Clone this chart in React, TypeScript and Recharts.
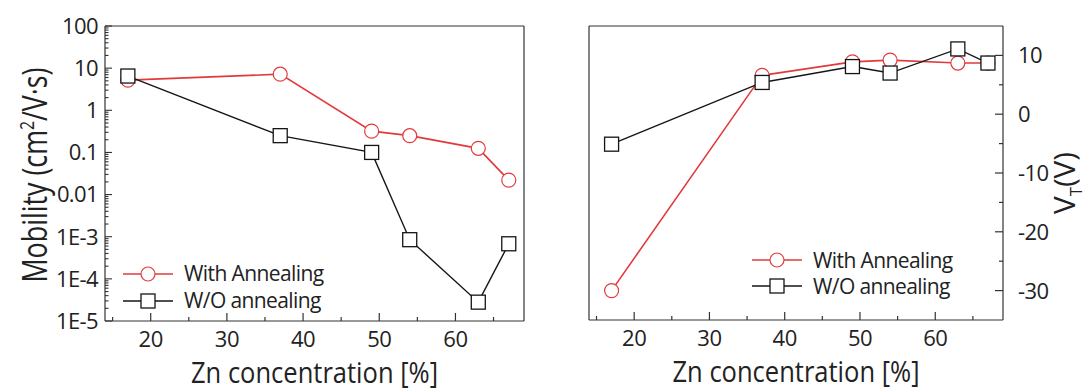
import React from 'react';
import { LineChart, Line, XAxis, YAxis, Legend } from 'recharts';

// ---- data ----
const znConcentration = [17, 37, 49, 54, 63, 67];
const mobilityWithAnnealing = [5.2, 7.2, 0.32, 0.25, 0.125, 0.022];
const mobilityWithoutAnnealing = [6.5, 0.25, 0.1, 0.00085, 0.000028, 0.00068];
const vtWithAnnealing = [-30, 6.6, 8.9, 9.2, 8.7, 8.7];
const vtWithoutAnnealing = [-5.1, 5.4, 8.1, 7.0, 11.1, 8.7];

const seriesNames = ['With Annealing', 'W/O annealing'];

const xMajorTicks = [20, 30, 40, 50, 60];
const xMinorTicks = [15, 25, 35, 45, 55, 65];
const mobilityMajorTicks = [1e-5, 1e-4, 1e-3, 0.01, 0.1, 1, 10, 100];
const mobilityTickLabels = ['1E-5', '1E-4', '1E-3', '0.01', '0.1', '1', '10', '100'];
const vtMajorTicks = [-30, -20, -10, 0, 10];
const vtMinorTicks = [-25, -15, -5, 5];

const xDomain = [14, 69];
const mobilityDomain = [1e-5, 100];
const vtDomain = [-35, 15];

// ---- derived tables ----
const mobilityData = znConcentration.map((zn, i) => ({
  zn,
  withAnn: mobilityWithAnnealing[i],
  withoutAnn: mobilityWithoutAnnealing[i],
}));
const vtData = znConcentration.map((zn, i) => ({
  zn,
  withAnn: vtWithAnnealing[i],
  withoutAnn: vtWithoutAnnealing[i],
}));

const xAllTicks = [...xMinorTicks, ...xMajorTicks].sort((a, b) => a - b);
const mobilityMinorTicks: number[] = [];
mobilityMajorTicks.slice(0, -1).forEach((d) => {
  for (let m = 2; m <= 9; m++) mobilityMinorTicks.push(d * m);
});
const mobilityAllTicks = [...mobilityMajorTicks, ...mobilityMinorTicks].sort((a, b) => a - b);
const vtAllTicks = [...vtMajorTicks, ...vtMinorTicks].sort((a, b) => a - b);

// ---- styles ----
const RED = '#e23a3c';
const BLACK = '#151515';
const AXIS = '#333';
const TEXT = '#222';
const FONT = '"Open Sans", sans-serif';

const XTick = (props: any) => {
  const { x, y, payload } = props;
  const major = xMajorTicks.includes(payload.value);
  return (
    <g>
      <line x1={x} x2={x} y1={y} y2={y - (major ? 8 : 4)} stroke={AXIS} strokeWidth={1.2} />
      {major && (
        <text x={x} y={y + 26} textAnchor="middle" fontSize={22} fontFamily={FONT} fill={TEXT} letterSpacing={-0.5}>
          {payload.value}
        </text>
      )}
    </g>
  );
};

const LogYTick = (props: any) => {
  const { x, y, payload } = props;
  const idx = mobilityMajorTicks.indexOf(payload.value);
  const major = idx >= 0;
  return (
    <g>
      <line x1={x} x2={x + (major ? 7 : 3.5)} y1={y} y2={y} stroke={AXIS} strokeWidth={1.1} />
      {major && (
        <text x={x - 7} y={y} dy="0.36em" textAnchor="end" fontSize={22} fontFamily={FONT} fill={TEXT} letterSpacing={-0.6}>
          {mobilityTickLabels[idx]}
        </text>
      )}
    </g>
  );
};

const VtTick = (props: any) => {
  const { x, y, payload } = props;
  const major = vtMajorTicks.includes(payload.value);
  return (
    <g>
      <line x1={x} x2={x - (major ? 8 : 4)} y1={y} y2={y} stroke={AXIS} strokeWidth={1.2} />
      {major && (
        <text x={x + 15} y={y} dy="0.36em" textAnchor="start" fontSize={22} fontFamily={FONT} fill={TEXT} letterSpacing={-0.6}>
          {payload.value}
        </text>
      )}
    </g>
  );
};

const XTitle = (props: any) => {
  const vb = props.viewBox;
  const cx = vb.x + vb.width / 2;
  const cy = vb.y + 62;
  return (
    <text x={cx} y={cy} textAnchor="middle" fontSize={30} fontFamily={FONT} fill={TEXT} textLength={247} lengthAdjust="spacingAndGlyphs">
      Zn concentration [%]
    </text>
  );
};

const MobilityTitle = () => {
  const cx = 47;
  const cy = 175;
  return (
    <text x={cx} y={cy} transform={`rotate(-90 ${cx} ${cy})`} textAnchor="middle" fontSize={34} fontFamily={FONT} fill={TEXT} textLength={215} lengthAdjust="spacingAndGlyphs">
      Mobility (cm<tspan dy={-13} fontSize={20}>2</tspan>
      <tspan dy={13}>/V·s)</tspan>
    </text>
  );
};

const VtTitle = () => {
  const cx = 530;
  const cy = 183;
  return (
    <text x={cx} y={cy} transform={`rotate(-90 ${cx} ${cy})`} textAnchor="middle" fontSize={30} fontFamily={FONT} fill={TEXT} textLength={62} lengthAdjust="spacingAndGlyphs">
      V<tspan dy={7} fontSize={17}>T</tspan>
      <tspan dy={-7}>(V)</tspan>
    </text>
  );
};

const SquareDot = (p: any) => {
  if (p.cx == null || p.cy == null) return <g key={p.index} />;
  return (
    <rect key={p.index} x={p.cx - 7} y={p.cy - 7} width={14} height={14} fill="#fff" stroke={BLACK} strokeWidth={1.3} />
  );
};

const makeLegend = (rowH: number) => () => (
  <div style={{ fontFamily: FONT, fontSize: 21, letterSpacing: -0.6, color: TEXT }}>
    {seriesNames.map((name, i) => (
      <div key={name} style={{ display: 'flex', alignItems: 'center', height: rowH }}>
        <svg width={50} height={20} style={{ display: 'block' }}>
          <line x1={0} x2={50} y1={10} y2={10} stroke={i === 0 ? RED : BLACK} strokeWidth={1.6} />
          {i === 0 ? (
            <circle cx={25} cy={10} r={7} fill="#fff" stroke={RED} strokeWidth={1.2} />
          ) : (
            <rect x={18} y={3} width={14} height={14} fill="#fff" stroke={BLACK} strokeWidth={1.3} />
          )}
        </svg>
        <span style={{ marginLeft: 11, lineHeight: 1, whiteSpace: 'nowrap' }}>{name}</span>
      </div>
    ))}
  </div>
);

const frameAxisProps = { tick: false, tickLine: false, axisLine: { stroke: AXIS, strokeWidth: 1.2 } } as const;

export default function App() {
  return (
    <div style={{ position: 'absolute', left: 0, top: 0, width: 1089, height: 392, background: '#fff', fontFamily: FONT }}>
      <div style={{ position: 'absolute', left: 0, top: 0 }}>
        <LineChart width={540} height={392} data={mobilityData} margin={{ top: 25, right: 15, bottom: 0, left: 0 }}>
          <XAxis
            dataKey="zn"
            type="number"
            domain={xDomain}
            allowDataOverflow
            ticks={xAllTicks}
            interval={0}
            height={71}
            tickSize={0}
            tickMargin={0}
            tickLine={false}
            axisLine={{ stroke: AXIS, strokeWidth: 1.2 }}
            tick={XTick}
            label={{ content: XTitle }}
          />
          <XAxis xAxisId="top" orientation="top" dataKey="zn" type="number" domain={xDomain} allowDataOverflow height={1} {...frameAxisProps} />
          <YAxis
            scale="log"
            type="number"
            domain={mobilityDomain}
            allowDataOverflow
            ticks={mobilityAllTicks}
            interval={0}
            width={105}
            tickSize={0}
            tickMargin={0}
            tickLine={false}
            axisLine={{ stroke: AXIS, strokeWidth: 1.2 }}
            tick={LogYTick}
            label={{ content: MobilityTitle }}
          />
          <YAxis yAxisId="right" orientation="right" width={1} {...frameAxisProps} />
          <Legend layout="vertical" align="center" verticalAlign="middle" wrapperStyle={{ left: 123, top: 260, width: 260 }} content={makeLegend(27)} />
          <Line
            dataKey="withAnn"
            name={seriesNames[0]}
            stroke={RED}
            strokeWidth={1.6}
            dot={{ r: 7, fill: '#fff', stroke: RED, strokeWidth: 1.2 }}
            isAnimationActive={false}
          />
          <Line
            dataKey="withoutAnn"
            name={seriesNames[1]}
            stroke={BLACK}
            strokeWidth={1.4}
            dot={SquareDot}
            isAnimationActive={false}
          />
        </LineChart>
      </div>
      <div style={{ position: 'absolute', left: 545, top: 0 }}>
        <LineChart width={544} height={392} data={vtData} margin={{ top: 25, right: 0, bottom: 0, left: 43 }}>
          <XAxis
            dataKey="zn"
            type="number"
            domain={xDomain}
            allowDataOverflow
            ticks={xAllTicks}
            interval={0}
            height={72}
            tickSize={0}
            tickMargin={0}
            tickLine={false}
            axisLine={{ stroke: AXIS, strokeWidth: 1.2 }}
            tick={XTick}
            label={{ content: XTitle }}
          />
          <XAxis xAxisId="top" orientation="top" dataKey="zn" type="number" domain={xDomain} allowDataOverflow height={1} {...frameAxisProps} />
          <YAxis yAxisId="left" orientation="left" width={1} {...frameAxisProps} />
          <YAxis
            yAxisId="vt"
            orientation="right"
            type="number"
            domain={vtDomain}
            allowDataOverflow
            ticks={vtAllTicks}
            interval={0}
            width={86}
            tickSize={0}
            tickMargin={0}
            tickLine={false}
            axisLine={{ stroke: AXIS, strokeWidth: 1.2 }}
            tick={VtTick}
            label={{ content: VtTitle }}
          />
          <Legend layout="vertical" align="center" verticalAlign="middle" wrapperStyle={{ left: 207, top: 247, width: 260 }} content={makeLegend(26)} />
          <Line
            yAxisId="vt"
            dataKey="withAnn"
            name={seriesNames[0]}
            stroke={RED}
            strokeWidth={1.6}
            dot={{ r: 7, fill: '#fff', stroke: RED, strokeWidth: 1.2 }}
            isAnimationActive={false}
          />
          <Line
            yAxisId="vt"
            dataKey="withoutAnn"
            name={seriesNames[1]}
            stroke={BLACK}
            strokeWidth={1.4}
            dot={SquareDot}
            isAnimationActive={false}
          />
        </LineChart>
      </div>
    </div>
  );
}
